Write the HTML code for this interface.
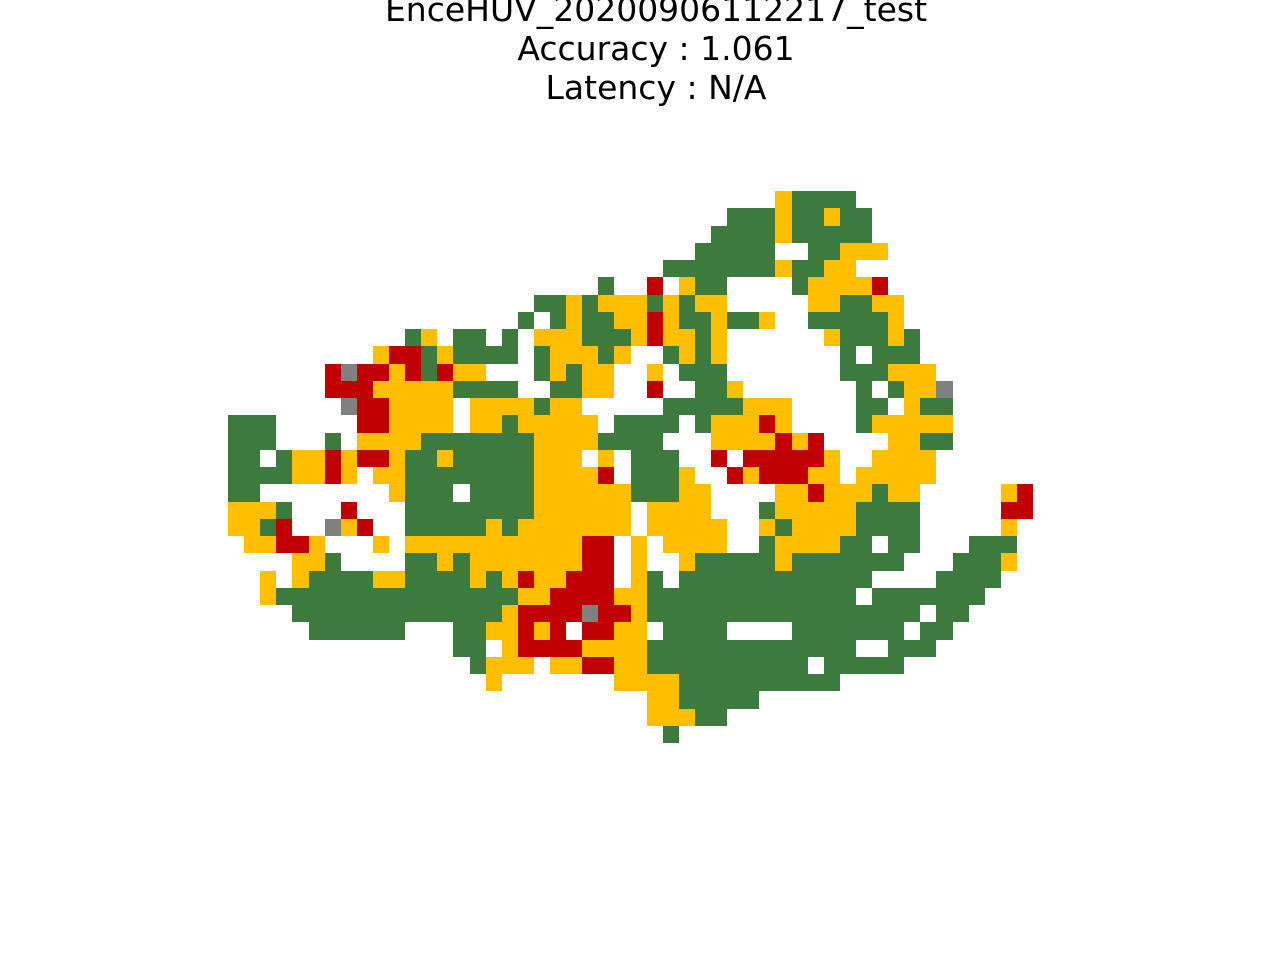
<!DOCTYPE html>
<html><head><meta charset="utf-8"><style>
html,body{margin:0;padding:0;background:#fff;}
svg{display:block;}
</style></head><body>
<svg id="chart" width="1280" height="960" viewBox="0 0 1280 960" xmlns="http://www.w3.org/2000/svg">
<g font-family="DejaVu Sans, Liberation Sans, sans-serif" font-size="33" text-anchor="middle" fill="#000">
<text x="656" y="21">EnceHUV_20200906112217_test</text>
<text x="656" y="60">Accuracy : 1.061</text>
<text x="656" y="99">Latency : N/A</text>
</g>
<g id="cells" shape-rendering="crispEdges"></g>
</svg>
<script>
// Grid rows: each char is a cell category (. empty, G green, Y yellow, R red, X gray)
const gridRows = [
"..................................YGGGG...........",
"...............................GGGYGGYGG..........",
"..............................GGGGYGGGGG..........",
".............................GGGGG..GGYYY.........",
"...........................GGGGGGGYGGYY...........",
".......................G..R.YGG....GYYYYR.........",
"...................GGYGYYYGYGYY.....YYGGYY........",
"..................G.GYGGYYRYGGYGGY..GGGGGY........",
"...........GY.GG.G.YYYGGGYRYYGY......YGGGYG.......",
".........YRRGYGGGG.GYYYGY..GYGY.......G.GGG.......",
"......RXRRYRGRYY...GYGYY..Y.GGG.......GGGYYY......",
"......RRRYYYYYGGGG..GGYY..R..GGY.......G.GYYX.....",
".......XRRYYYY.YYYYGYY.....GGGGGYYY....GG.YGG.....",
"GGG.....RRYYYY.YYGYYYYY.GGGG.GYYYRY....GYYYYY.....",
"GGG...G.YYYYGGGGGGGYYYYGGGG...YYYYRYR....YYGG.....",
"GG.GYYRYRRYGGYGGGGGYYY.Y.GGG..R.RRRRRY..YYYY......",
"GGGGYYRY.YYGGGGGGGGYYYYR.GGGY..RYRRRYY.YYYYY......",
"GG........YGGG.GGGGYYYYYYGGGYY....YYRYYYGYY.....YR",
"YYYG...R...GGGGGGGGYYYYYY.YYYY...GYYYYYGGGG.....RR",
"YYGR..XYR..GGGGGYGYYYYYYY.YYYYY..YGYYYYGGGG.....Y.",
".YYRRY...Y.YYYYYYYYYYYRR.Y.YYYY..GYYYYGG.GG...GGG.",
"....YYG....GGYGYYYYYYYRR.Y..YGGGGGYGGGGGGG...GGGY.",
"..Y.YGGGGYYGGGGYGYRYYRRR.YG.GGGGGGGGGGGG....GGGG..",
"..YGGGGGGGGGGGGGGGYYRRRRYYGGGGGGGGGGGGG.GGGGGGG...",
"....GGGGGGGGGGGGGYRRRRXRRYGGGGGGGGGGGGGGGGG.GG....",
".....GGGGGG...GGYYRYR.RRYY.GGGG....GGGGGGG.GG.....",
"..............GG.YRRRRYYYYGGGGGGGGGGGGG..GGG......",
"...............GYYY.YYRRYYGGGGGGGGGG.GGGGG........",
"................Y.......YYYYGGGGGGGGGG............",
"..........................YYGGGGG.................",
"..........................YYYGG...................",
"...........................G......................"
];
const categories = ["G","Y","R","X"];
const categoryNames = ["correct","close","wrong","unknown"];
const categoryColors = ["#3d7a3d","#ffbf00","#c00000","#808080"];

const X0 = 228, CW = 16.1, Y0 = 191, CH = 17.25;
function xScale(c){ return X0 + c * CW; }
function yScale(r){ return Y0 + r * CH; }

const g = document.getElementById('cells');
const NS = "http://www.w3.org/2000/svg";
gridRows.forEach(function(row, r){
  for (let c = 0; c < row.length; c++){
    const k = categories.indexOf(row[c]);
    if (k < 0) continue;
    const x1 = Math.round(xScale(c)), x2 = Math.round(xScale(c+1));
    const y1 = Math.round(yScale(r)), y2 = Math.round(yScale(r+1));
    const rect = document.createElementNS(NS, 'rect');
    rect.setAttribute('x', x1);
    rect.setAttribute('y', y1);
    rect.setAttribute('width', x2 - x1);
    rect.setAttribute('height', y2 - y1);
    rect.setAttribute('fill', categoryColors[k]);
    
    
    g.appendChild(rect);
  }
});
</script>
</body></html>
